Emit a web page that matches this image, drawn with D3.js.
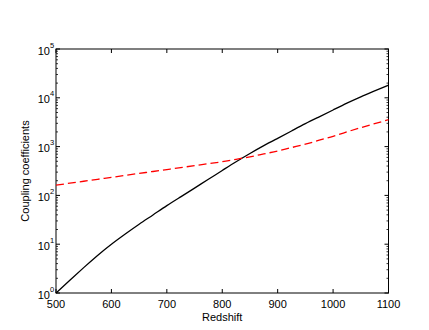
<!DOCTYPE html>
<html>
<head>
<meta charset="utf-8">
<script src="https://cdn.jsdelivr.net/npm/d3@7"></script>
<style>
  body { margin: 0; background: #fff; }
  text { font-family: "Liberation Sans", Arial, sans-serif; fill: #000; }
</style>
</head>
<body>
<svg id="chart" width="429" height="330"></svg>
<script>
// Redshift samples
var redshift = [500, 525, 550, 575, 600, 625, 650, 675, 700, 725, 750, 775, 800,
                825, 850, 875, 900, 925, 950, 975, 1000, 1025, 1050, 1075, 1100];
// solid black curve
var coupling_a = [1, 1.82, 3.31, 5.89, 10, 16.2, 25.7, 39.8, 61.7, 93.3, 141, 214, 324,
                  490, 724, 1047, 1479, 2089, 2951, 4074, 5623, 7762, 10470, 13800, 18200];
// red dashed curve
var coupling_b = [162, 178, 195, 214, 234, 257, 282, 309, 339, 372, 407, 447, 490,
                  550, 617, 708, 813, 955, 1120, 1350, 1620, 2000, 2450, 2950, 3550];
var xTicks = [500, 600, 700, 800, 900, 1000, 1100];
var yExps = [0, 1, 2, 3, 4, 5];

var svg = d3.select("#chart");
var pLeft = 56, pRight = 388.5, pTop = 49, pBottom = 293;

var x = d3.scaleLinear().domain([500, 1100]).range([pLeft, pRight]);
var y = d3.scaleLog().domain([1, 1e5]).range([pBottom, pTop]);

// frame
svg.append("rect")
  .attr("x", pLeft).attr("y", pTop)
  .attr("width", pRight - pLeft).attr("height", pBottom - pTop)
  .attr("fill", "none").attr("stroke", "#000").attr("stroke-width", 1);

// x ticks (inward, bottom and top)
xTicks.forEach(function(t) {
  svg.append("line").attr("x1", x(t)).attr("x2", x(t))
    .attr("y1", pBottom).attr("y2", pBottom - 4).attr("stroke", "#000");
  svg.append("line").attr("x1", x(t)).attr("x2", x(t))
    .attr("y1", pTop).attr("y2", pTop + 4).attr("stroke", "#000");
  svg.append("text").attr("x", x(t)).attr("y", 307.5)
    .attr("text-anchor", "middle").style("font-size", "11px").text(t);
});

// y ticks, major + minor, both sides
yExps.forEach(function(e) {
  var v = Math.pow(10, e);
  [[pLeft, 1], [pRight, -1]].forEach(function(s) {
    svg.append("line").attr("x1", s[0]).attr("x2", s[0] + s[1] * 4)
      .attr("y1", y(v)).attr("y2", y(v)).attr("stroke", "#000");
  });
  if (e < 5) {
    for (var k = 2; k <= 9; k++) {
      [[pLeft, 1], [pRight, -1]].forEach(function(s) {
        svg.append("line").attr("x1", s[0]).attr("x2", s[0] + s[1] * 2)
          .attr("y1", y(k * v)).attr("y2", y(k * v))
          .attr("stroke", "#000").attr("stroke-width", 0.8);
      });
    }
  }
  svg.append("text").attr("x", 50).attr("y", y(v) + 5.5)
    .attr("text-anchor", "end").style("font-size", "11px").text("10");
  svg.append("text").attr("x", 50).attr("y", y(v) - 1.5)
    .style("font-size", "7.5px").text(e);
});

// curves
var line = d3.line()
  .x(function(d, i) { return x(redshift[i]); })
  .y(function(d) { return y(d); })
  .curve(d3.curveNatural);

svg.append("path").datum(coupling_a)
  .attr("d", line)
  .attr("fill", "none").attr("stroke", "#000").attr("stroke-width", 1.3);

svg.append("path").datum(coupling_b)
  .attr("d", line)
  .attr("fill", "none").attr("stroke", "#ff0000").attr("stroke-width", 1.3)
  .attr("stroke-dasharray", "8,4");

// axis labels
svg.append("text").attr("x", (pLeft + pRight) / 2).attr("y", 321)
  .attr("text-anchor", "middle").style("font-size", "11px").text("Redshift");
svg.append("text")
  .attr("transform", "translate(28.5," + ((pTop + pBottom) / 2) + ") rotate(-90)")
  .attr("text-anchor", "middle").style("font-size", "11px").text("Coupling coefficients");
</script>
</body>
</html>
